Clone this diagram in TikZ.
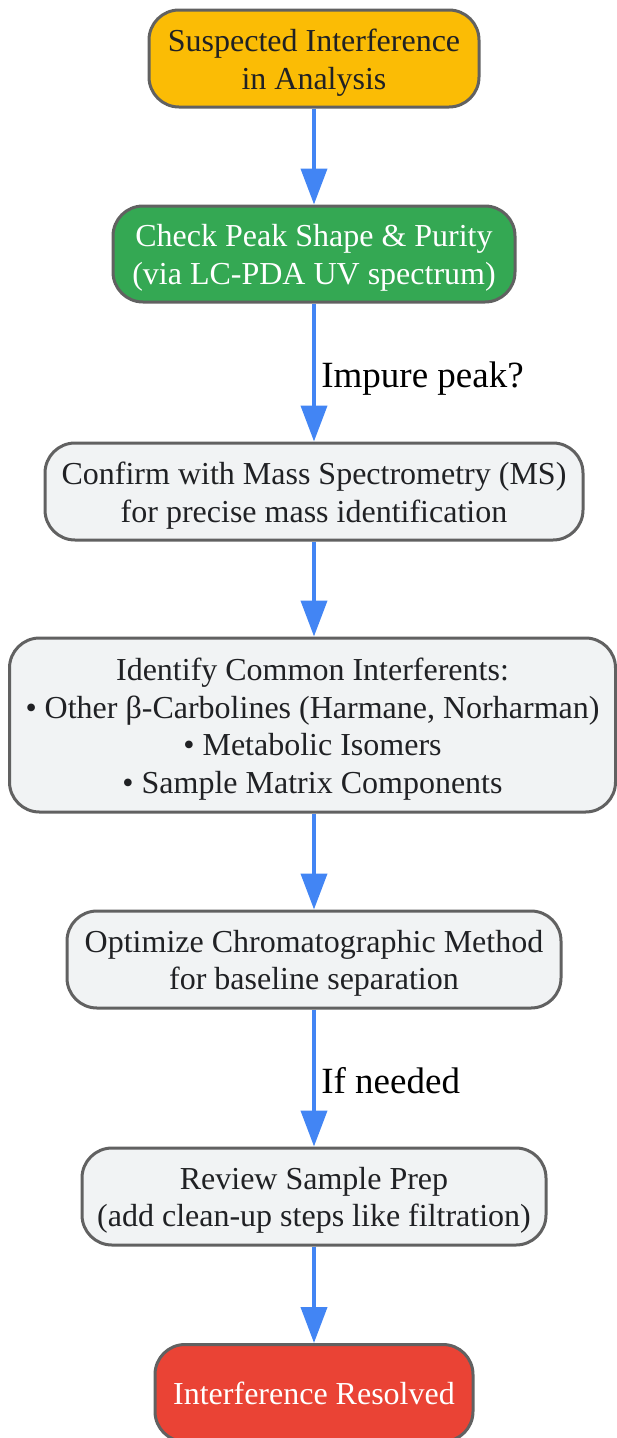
\documentclass[tikz,border=0pt]{standalone}
\usepackage{fontspec}
\setmainfont{Liberation Serif}
\usetikzlibrary{arrows.meta}
\definecolor{bordergray}{HTML}{616161}
\definecolor{yel}{HTML}{FBBC05}
\definecolor{grn}{HTML}{34A853}
\definecolor{redd}{HTML}{EA4335}
\definecolor{lightg}{HTML}{F1F3F4}
\definecolor{txt}{HTML}{202124}
\definecolor{arrowblue}{HTML}{4285F4}
\tikzset{
  box/.style={draw=bordergray, line width=3pt, rounded corners=30pt, fill=lightg, inner sep=0pt},
  boxtext/.style={align=center, font=\fontsize{32}{37.5}\selectfont, text=txt, inner sep=0pt, yshift=-4pt},
  flow/.style={draw=arrowblue, line width=4pt, -{Triangle[length=36pt,width=26pt]}, shorten >=0pt},
  elabel/.style={font=\fontsize{37}{40}\selectfont, text=black, anchor=west}
}
\begin{document}
\begin{tikzpicture}[x=1pt,y=-1pt]
\useasboundingbox (0,0) rectangle (616,1438);
\node[box, fill=yel, minimum width=330pt, minimum height=97pt] (n1) at (314,58.5) {};
\node[boxtext] (t1) at (n1.center) {Suspected Interference\\in Analysis};
\node[box, fill=grn, minimum width=402pt, minimum height=96pt] (n2) at (314,254) {};
\node[boxtext, text=white] (t2) at (n2.center) {Check Peak Shape \& Purity\\(via LC-PDA UV spectrum)};
\node[box, minimum width=538pt, minimum height=97pt] (n3) at (314,491.5) {};
\node[boxtext] (t3) at (n3.center) {Confirm with Mass Spectrometry (MS)\\for precise mass identification};
\node[box, minimum width=606pt, minimum height=174pt] (n4) at (312.5,725) {};
\node[boxtext] (t4) at (n4.center) {Identify Common Interferents:\\• Other β-Carbolines (Harmane, Norharman)\\• Metabolic Isomers\\• Sample Matrix Components};
\node[box, minimum width=494pt, minimum height=97pt] (n5) at (314,959.5) {};
\node[boxtext] (t5) at (n5.center) {Optimize Chromatographic Method\\for baseline separation};
\node[box, minimum width=464pt, minimum height=97pt] (n6) at (314,1196.5) {};
\node[boxtext] (t6) at (n6.center) {Review Sample Prep\\(add clean-up steps like filtration)};
\node[box, fill=redd, minimum width=318pt, minimum height=97pt] (n7) at (314,1393) {};
\node[boxtext, text=white, yshift=4pt] (t7) at (n7.center) {Interference Resolved};
\draw[flow] (n1.south) -- (n2.north);
\draw[flow] (n2.south) -- node[elabel, pos=0.52, xshift=2pt, yshift=-3pt] (l1) {Impure peak?} (n3.north);
\draw[flow] (n3.south) -- (n4.north -| n3.south);
\draw[flow] (n4.south -| n3.south) -- (n5.north);
\draw[flow] (n5.south) -- node[elabel, pos=0.5, xshift=2pt, yshift=-3pt] (l2) {If needed} (n6.north);
\draw[flow] (n6.south) -- (n7.north);
\end{tikzpicture}
\end{document}
